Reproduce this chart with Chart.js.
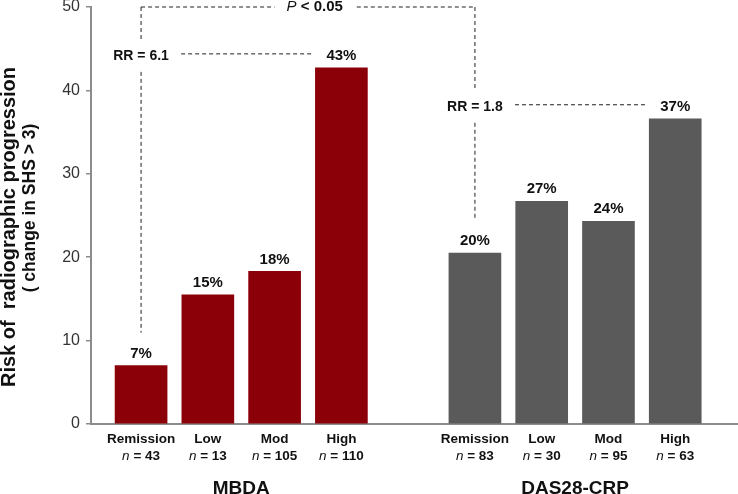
<!DOCTYPE html>
<html>
<head>
<meta charset="utf-8">
<script src="https://cdn.jsdelivr.net/npm/chart.js@4.4.1/dist/chart.umd.min.js"></script>
<style>
  html, body { margin: 0; padding: 0; background: #fff; }
  #wrap { width: 738px; height: 494px; position: relative; }
</style>
</head>
<body>
<div id="wrap"><canvas id="riskChart"></canvas></div>
<script>
// data
const categories = ['Remission', 'Low', 'Mod', 'High'];
const groups = ['MBDA', 'DAS28-CRP'];
const mbdaValues = [7.0, 15.5, 18.3, 42.7];
const dasValues = [20.5, 26.7, 24.3, 36.6];
const mbdaPct = ['7%', '15%', '18%', '43%'];
const dasPct = ['20%', '27%', '24%', '37%'];
const mbdaN = [43, 13, 105, 110];
const dasN = [83, 30, 95, 63];
const rrLabels = ['RR = 6.1', 'RR = 1.8'];
const pText = ['P', ' < 0.05'];
const yTicks = [0, 10, 20, 30, 40, 50];

const FONT = "'Liberation Sans', Arial, sans-serif";
const groupStep = categories.length + 1; // one empty slot between groups
const pos = (g, i) => g * groupStep + i;

function dashed(ctx, x1, y1, x2, y2) {
    ctx.beginPath();
    ctx.moveTo(x1, y1);
    ctx.lineTo(x2, y2);
    ctx.stroke();
}

const labelsPlugin = {
    id: 'labels',
    afterDraw(chart) {
        const ctx = chart.ctx;
        const xs = chart.scales.x, ys = chart.scales.y;
        const area = chart.chartArea;
        const pcts = [mbdaPct, dasPct];
        const ns = [mbdaN, dasN];
        const labelY = [[], []];
        ctx.save();
        ctx.textAlign = 'center';
        ctx.textBaseline = 'middle';

        // value labels above bars
        chart.data.datasets.forEach((ds, g) => {
            chart.getDatasetMeta(g).data.forEach((bar, i) => {
                ctx.font = 'bold 15px ' + FONT;
                ctx.fillStyle = '#111';
                const ly = bar.y - 12;
                labelY[g][i] = ly;
                ctx.fillText(pcts[g][i], bar.x, ly);
            });
        });

        // category labels + n
        groups.forEach((grp, g) => {
            categories.forEach((c, i) => {
                const x = xs.getPixelForValue(pos(g, i));
                ctx.textAlign = 'center';
                ctx.font = 'bold 13.5px ' + FONT;
                ctx.fillStyle = '#111';
                ctx.fillText(c, x, area.bottom + 15);
                ctx.font = 'italic 13.5px ' + FONT;
                const w1 = ctx.measureText('n').width;
                ctx.font = 'bold 13.5px ' + FONT;
                const rest = ' = ' + ns[g][i];
                const w2 = ctx.measureText(rest).width;
                let sx = x - (w1 + w2) / 2;
                ctx.textAlign = 'left';
                ctx.font = 'italic 13.5px ' + FONT;
                ctx.fillText('n', sx, area.bottom + 32);
                ctx.font = 'bold 13.5px ' + FONT;
                ctx.fillText(rest, sx + w1, area.bottom + 32);
            });
            const gx = (xs.getPixelForValue(pos(g, 0)) + xs.getPixelForValue(pos(g, categories.length - 1))) / 2;
            ctx.textAlign = 'center';
            ctx.font = 'bold 19px ' + FONT;
            ctx.fillText(grp, gx, area.bottom + 65);
        });

        // y axis title, two lines
        ctx.save();
        ctx.translate(9, 227);
        ctx.rotate(-Math.PI / 2);
        ctx.font = 'bold 20px ' + FONT;
        ctx.fillText('Risk of  radiographic progression', 0, 0);
        ctx.restore();
        ctx.save();
        ctx.translate(30, 208);
        ctx.rotate(-Math.PI / 2);
        ctx.font = 'bold 17.5px ' + FONT;
        ctx.fillText('( change in SHS > 3)', 0, 0);
        ctx.restore();

        // annotations
        ctx.strokeStyle = '#222';
        ctx.lineWidth = 1;
        ctx.setLineDash([4, 3]);
        const topY = ys.getPixelForValue(50);

        // P line between the two remission bars
        const pX0 = xs.getPixelForValue(pos(0, 0));
        const pX1 = xs.getPixelForValue(pos(1, 0));
        const pMid = xs.getPixelForValue(2.6);
        ctx.font = 'italic 15px ' + FONT;
        const pw1 = ctx.measureText(pText[0]).width;
        ctx.font = 'bold 15px ' + FONT;
        const pw2 = ctx.measureText(pText[1]).width;
        const pLeft = pMid - (pw1 + pw2) / 2;
        dashed(ctx, pX0, topY, pLeft - 12, topY);
        dashed(ctx, pLeft + pw1 + pw2 + 14, topY, pX1, topY);
        ctx.textAlign = 'left';
        ctx.fillStyle = '#111';
        ctx.font = 'italic 15px ' + FONT;
        ctx.fillText(pText[0], pLeft, topY);
        ctx.font = 'bold 15px ' + FONT;
        ctx.fillText(pText[1], pLeft + pw1, topY);

        // RR brackets
        groups.forEach((grp, g) => {
            const x0 = xs.getPixelForValue(pos(g, 0));
            const hi = categories.length - 1;
            const rrY = labelY[g][hi];
            dashed(ctx, x0, topY, x0, rrY - 16);
            dashed(ctx, x0, rrY + 16, x0, labelY[g][0] - 21);
            dashed(ctx, xs.getPixelForValue(pos(g, 0.6)), rrY - 2, xs.getPixelForValue(pos(g, 2.55)), rrY - 2);
            ctx.textAlign = 'center';
            ctx.font = 'bold 14px ' + FONT;
            ctx.fillText(rrLabels[g], x0, rrY);
        });
        ctx.restore();
    }
};

const axisColor = '#8c8c8c';

new Chart(document.getElementById('riskChart'), {
    type: 'bar',
    data: {
        datasets: [
            {
                label: groups[0],
                data: mbdaValues.map((v, i) => ({ x: pos(0, i), y: v })),
                backgroundColor: '#8b0008',
                barThickness: 52,
                grouped: false
            },
            {
                label: groups[1],
                data: dasValues.map((v, i) => ({ x: pos(1, i), y: v })),
                backgroundColor: '#5a5a5a',
                barThickness: 52,
                grouped: false
            }
        ]
    },
    options: {
        responsive: true,
        maintainAspectRatio: false,
        animation: false,
        layout: { padding: { top: 7, right: 0, left: 0, bottom: 0 } },
        plugins: { legend: { display: false }, tooltip: { enabled: false } },
        scales: {
            x: {
                type: 'linear',
                offset: false,
                min: -0.75,
                max: 8.94,
                ticks: { display: false },
                grid: { display: false, offset: false },
                border: { color: axisColor, width: 2 },
                afterFit: s => { s.height = 70; s.paddingLeft = 0; s.paddingRight = 0; }
            },
            y: {
                min: 0,
                max: 50,
                afterBuildTicks: s => { s.ticks = yTicks.map(v => ({ value: v })); },
                ticks: { color: '#333', font: { family: FONT, size: 16 }, padding: 6 },
                grid: { drawOnChartArea: false, tickLength: 5, color: axisColor, lineWidth: 1.5 },
                border: { color: axisColor, width: 2 },
                afterFit: s => { s.width = 91; s.paddingTop = 0; s.paddingBottom = 0; }
            }
        }
    },
    plugins: [labelsPlugin]
});
</script>
</body>
</html>
